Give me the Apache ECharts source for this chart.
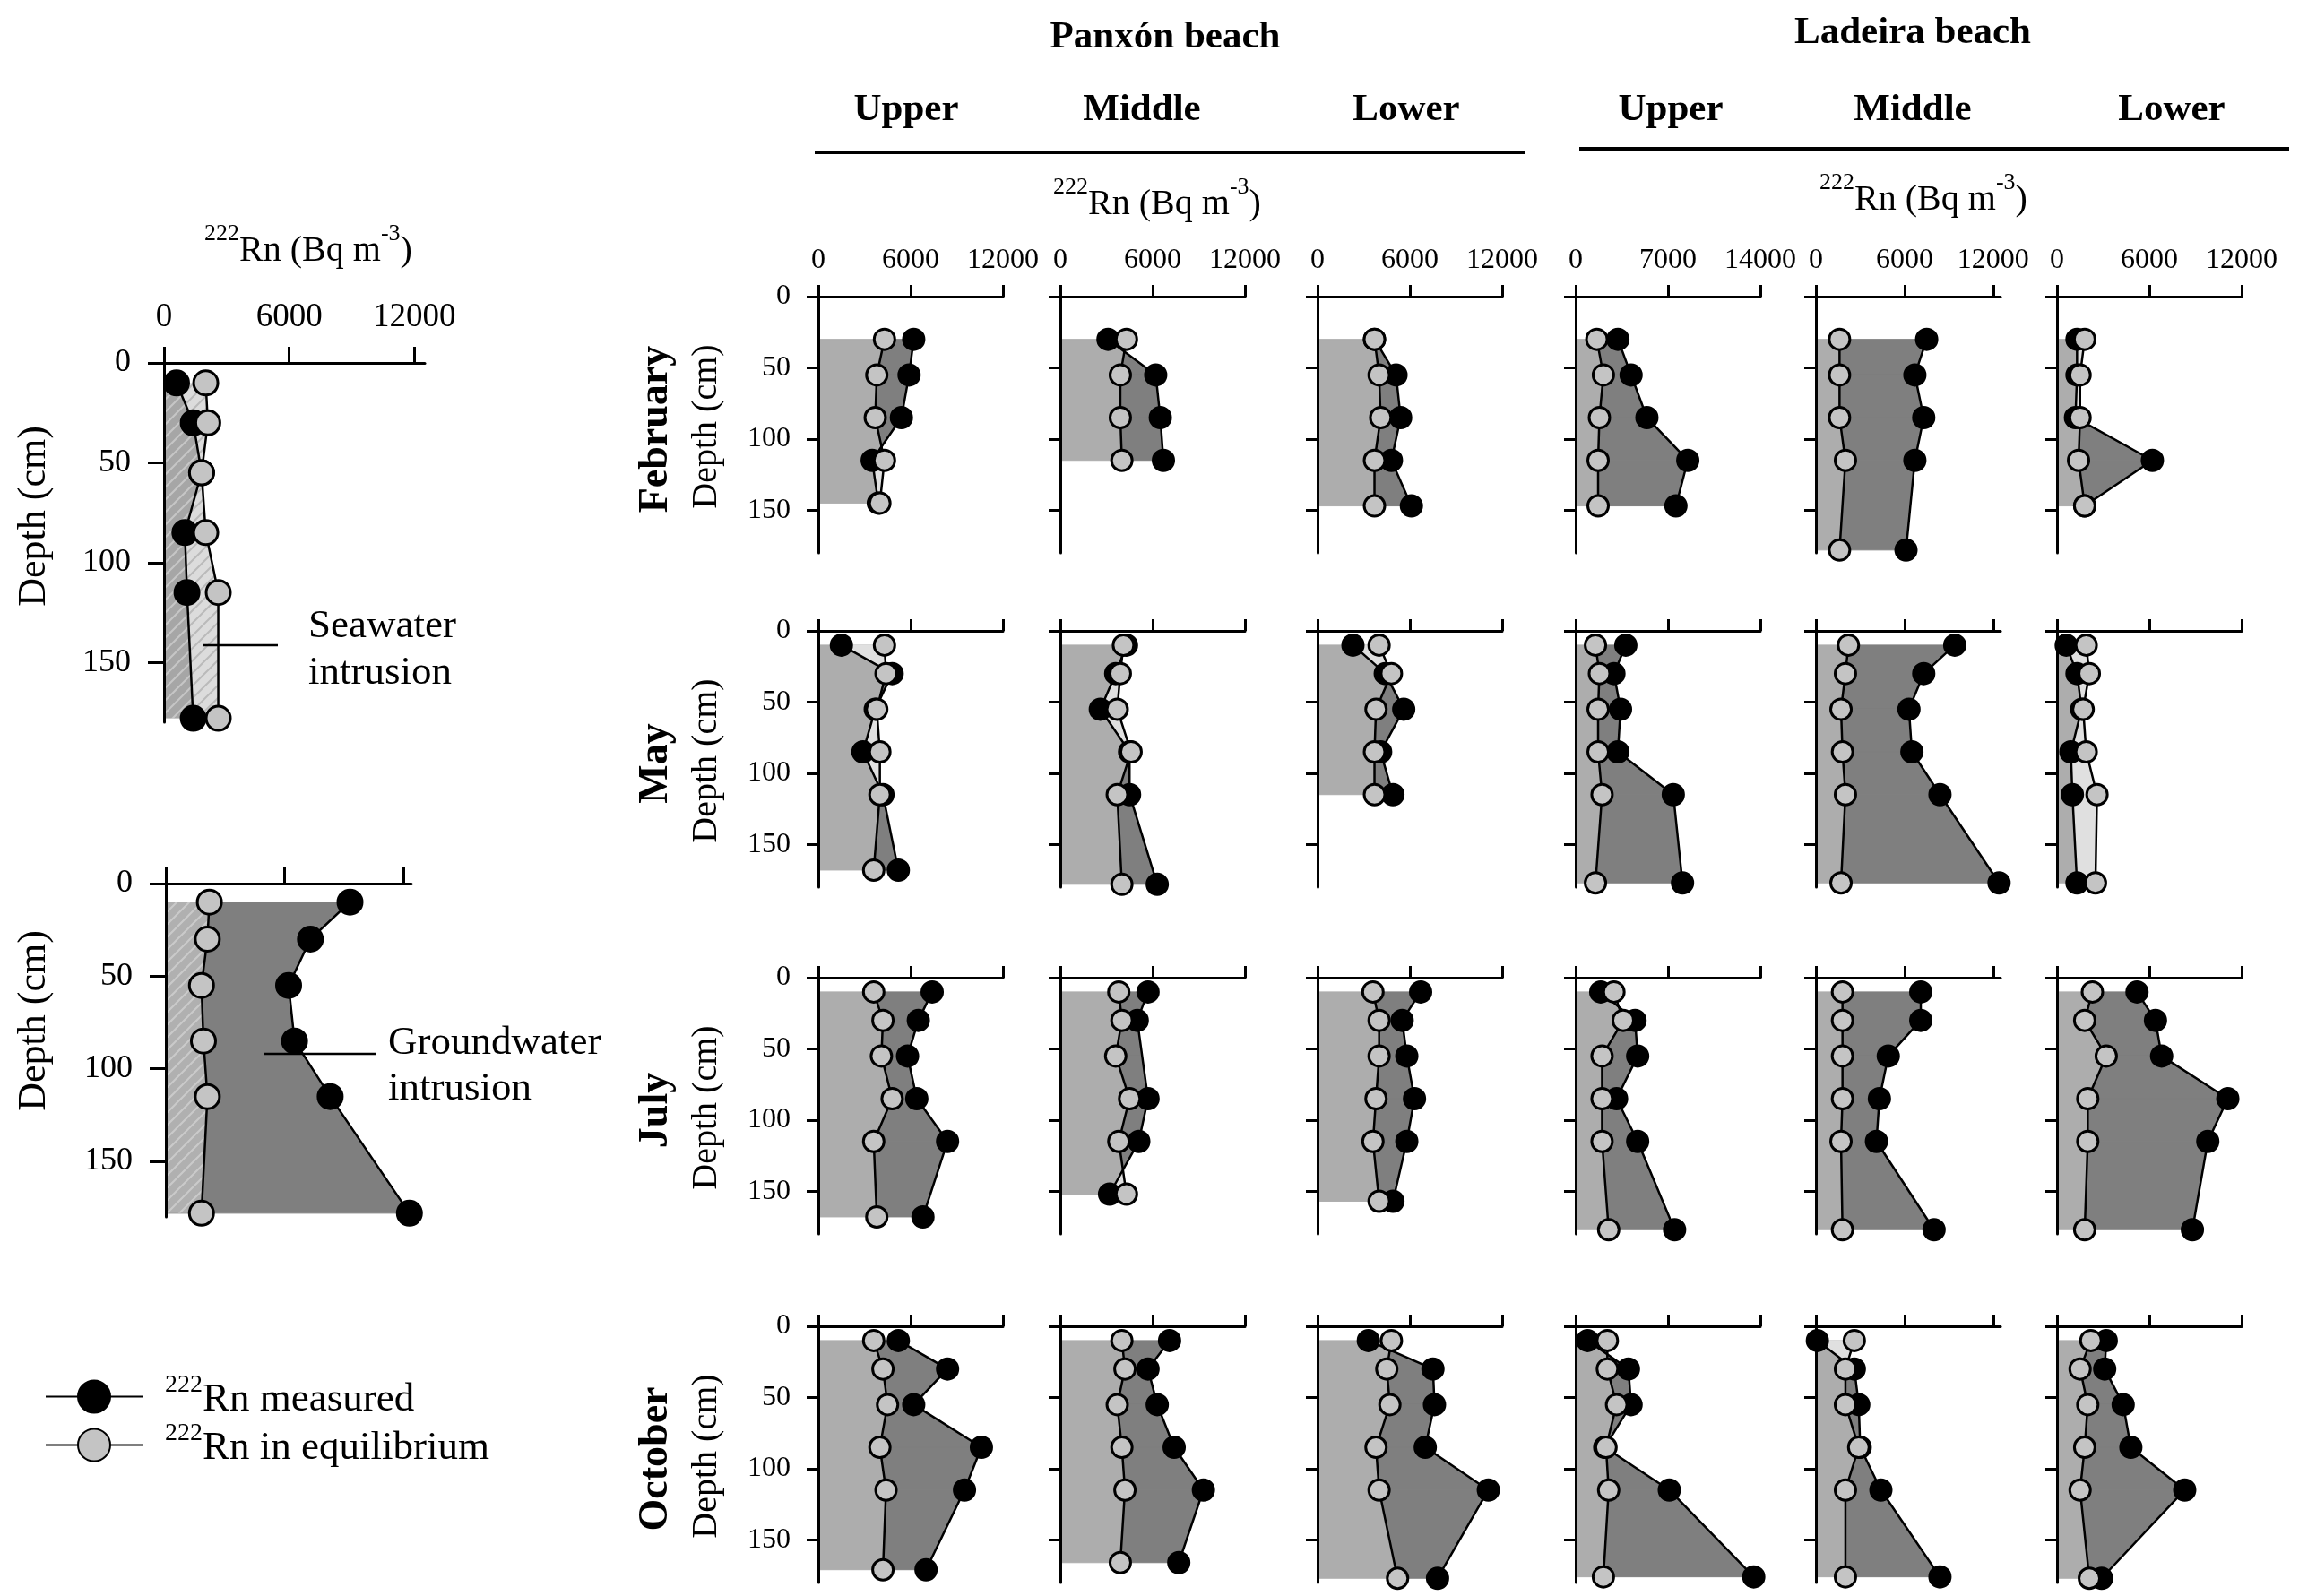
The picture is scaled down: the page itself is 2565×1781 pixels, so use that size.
<!DOCTYPE html>
<html lang="en">
<head>
<meta charset="UTF-8">
<title>222Rn profiles, Panxón and Ladeira beaches</title>
<script src="https://cdn.jsdelivr.net/npm/echarts@6/dist/echarts.min.js"></script>
<style>
    html, body { margin: 0; padding: 0; background: #fff; }
    #chart { width: 2565px; height: 1781px; }
</style>
</head>
<body>
<div id="chart"></div>
<script>
    const FONT = 'Liberation Serif';

    // ---- data (Bq m-3 against depth in cm) ----
    const beaches = ['Panxón beach', 'Ladeira beach'];
    const sites = ['Upper', 'Middle', 'Lower', 'Upper', 'Middle', 'Lower'];
    const months = ['February', 'May', 'July', 'October'];
    const rnTicks = [0, 6000, 12000];
    const rnTicksWide = [0, 7000, 14000];
    const depthTicks = [0, 50, 100, 150];
    const rnMax = [12000, 12000, 12000, 14000, 12500, 12000];

    // order of each list: Panxón upper, middle, lower, Ladeira upper, middle, lower
    const febDepth = [
        [30, 55, 85, 115, 145], [30, 55, 85, 115], [30, 55, 85, 115, 147],
        [30, 55, 85, 115, 147], [30, 55, 85, 115, 178], [30, 55, 85, 115, 147]
    ];
    const febMeasured = [
        [6200, 5900, 5400, 3500, 3900], [3100, 6200, 6500, 6700], [3700, 5100, 5400, 4800, 6100],
        [3200, 4200, 5400, 8500, 7600], [7500, 6700, 7300, 6700, 6100], [1300, 1300, 1200, 6200, 1800]
    ];
    const febEquilibrium = [
        [4300, 3800, 3700, 4300, 4000], [4300, 3900, 3900, 4000], [3700, 4000, 4100, 3700, 3700],
        [1600, 2100, 1800, 1700, 1700], [1600, 1600, 1600, 2000, 1600], [1800, 1500, 1500, 1400, 1800]
    ];

    const mayDepth = [
        [10, 30, 55, 85, 115, 168], [10, 30, 55, 85, 115, 178], [10, 30, 55, 85, 115],
        [10, 30, 55, 85, 115, 177], [10, 30, 55, 85, 115, 177], [10, 30, 55, 85, 115, 177]
    ];
    const mayMeasured = [
        [1500, 4800, 3700, 2900, 4200, 5200], [4300, 3600, 2600, 4500, 4500, 6300], [2300, 4400, 5600, 4100, 4900],
        [3800, 2900, 3400, 3200, 7400, 8100], [9400, 7300, 6300, 6500, 8400, 12400], [600, 1300, 1600, 900, 1000, 1300]
    ];
    const mayEquilibrium = [
        [4300, 4400, 3800, 4000, 4000, 3600], [4100, 3900, 3700, 4600, 3700, 4000], [4000, 4800, 3800, 3700, 3700],
        [1500, 1800, 1700, 1700, 2000, 1500], [2200, 2000, 1700, 1800, 2000, 1700], [1900, 2100, 1700, 1900, 2600, 2500]
    ];

    const julDepth = [
        [10, 30, 55, 85, 115, 168], [10, 30, 55, 85, 115, 152], [10, 30, 55, 85, 115, 157],
        [10, 30, 55, 85, 115, 177], [10, 30, 55, 85, 115, 177], [10, 30, 55, 85, 115, 177]
    ];
    const julMeasured = [
        [7400, 6500, 5800, 6400, 8400, 6800], [5700, 5000, null, 5700, 5100, 3200], [6700, 5500, 5800, 6300, 5800, 4900],
        [1900, 4500, 4700, 3100, 4700, 7500], [7100, 7100, 4900, 4300, 4100, 8000], [5200, 6400, 6800, 11100, 9800, 8800]
    ];
    const julEquilibrium = [
        [3600, 4200, 4100, 4800, 3600, 3800], [3800, 4000, 3600, 4500, 3800, 4300], [3600, 4000, 4000, 3800, 3600, 4000],
        [2900, 3600, 2000, 2000, 2000, 2500], [1800, 1800, 1800, 1800, 1700, 1800], [2300, 1800, 3200, 2000, 2000, 1800]
    ];

    const octDepth = [
        [10, 30, 55, 85, 115, 171], [10, 30, 55, 85, 115, 166], [10, 30, 55, 85, 115, 177],
        [10, 30, 55, 85, 115, 176], [10, 30, 55, 85, 115, 176], [10, 30, 55, 85, 115, 177]
    ];
    const octMeasured = [
        [5200, 8400, 6200, 10600, 9500, 7000], [7100, 5700, 6300, 7400, 9300, 7700], [3300, 7500, 7600, 7000, 11100, 7800],
        [900, 4000, 4200, 2200, 7100, 13500], [100, 2600, 2900, 3000, 4400, 8400], [3200, 3100, 4300, 4800, 8300, 2900]
    ];
    const octEquilibrium = [
        [3600, 4200, 4500, 4000, 4400, 4200], [4000, 4200, 3700, 4000, 4200, 3900], [4800, 4500, 4700, 3800, 4000, 5200],
        [2400, 2400, 3100, 2300, 2500, 2100], [2600, 2000, 2000, 2900, 2000, 2000], [2200, 1500, 2000, 1800, 1500, 2100]
    ];

    // the two explanatory profiles on the left
    const seaDepth = [10, 30, 55, 85, 115, 178];
    const seaMeasured = [600, 1400, 1800, 1000, 1100, 1400];
    const seaEquilibrium = [2000, 2100, 1800, 2000, 2600, 2600];
    const gwDepth = [10, 30, 55, 85, 115, 178];
    const gwMeasured = [9300, 7300, 6200, 6500, 8300, 12300];
    const gwEquilibrium = [2200, 2100, 1800, 1900, 2100, 1800];

    const monthData = [
        [febDepth, febMeasured, febEquilibrium],
        [mayDepth, mayMeasured, mayEquilibrium],
        [julDepth, julMeasured, julEquilibrium],
        [octDepth, octMeasured, octEquilibrium]
    ];

    // ---- layout ----
    const colLeft = [913, 1183, 1470, 1758, 2026, 2295];
    const rowTop = [331, 704, 1091, 1480];
    const panelW = 206, panelH = 286;

    const LIGHT = '#adadad', DARK = '#7f7f7f', PALE = '#e0e0e0';

    function hatch(bg, fg) {
        const s = 14;
        const c = document.createElement('canvas');
        c.width = s; c.height = s;
        const g = c.getContext('2d');
        g.fillStyle = bg;
        g.fillRect(0, 0, s, s);
        g.strokeStyle = fg;
        g.lineWidth = 2;
        g.beginPath();
        g.moveTo(0, s); g.lineTo(s, 0);
        g.moveTo(-s / 2, s / 2); g.lineTo(s / 2, -s / 2);
        g.moveTo(s / 2, s * 1.5); g.lineTo(s * 1.5, s / 2);
        g.stroke();
        return { type: 'pattern', image: c, repeat: 'repeat' };
    }

    function pairs(depth, vals) {
        const out = [];
        depth.forEach((d, i) => { if (vals[i] != null) out.push([vals[i], d]); });
        return out;
    }

    function valueAt(pts, d) {
        for (let i = 0; i < pts.length - 1; i++) {
            const a = pts[i], b = pts[i + 1];
            if (d >= a[1] && d <= b[1]) {
                const t = b[1] === a[1] ? 0 : (d - a[1]) / (b[1] - a[1]);
                return a[0] + t * (b[0] - a[0]);
            }
        }
        return d < pts[0][1] ? pts[0][0] : pts[pts.length - 1][0];
    }

    // strip between equilibrium and measured profiles, cut where they cross
    function strips(eq, ms) {
        const top = Math.max(eq[0][1], ms[0][1]);
        const bot = Math.min(eq[eq.length - 1][1], ms[ms.length - 1][1]);
        const ds = [...new Set(eq.concat(ms).map(p => p[1]))]
            .filter(d => d >= top && d <= bot).sort((a, b) => a - b);
        const out = [];
        for (let i = 0; i < ds.length - 1; i++) {
            const d0 = ds[i], d1 = ds[i + 1];
            const e0 = valueAt(eq, d0), e1 = valueAt(eq, d1);
            const m0 = valueAt(ms, d0), m1 = valueAt(ms, d1);
            const f0 = m0 - e0, f1 = m1 - e1;
            if (f0 * f1 < 0) {
                const t = f0 / (f0 - f1);
                const c = [e0 + t * (e1 - e0), d0 + t * (d1 - d0)];
                out.push({ up: f0 > 0, pts: [[e0, d0], [m0, d0], c] });
                out.push({ up: f1 > 0, pts: [c, [m1, d1], [e1, d1]] });
            } else {
                out.push({ up: f0 + f1 > 0, pts: [[e0, d0], [m0, d0], [m1, d1], [e1, d1]] });
            }
        }
        return out;
    }

    // closes a profile back onto the depth axis
    function toAxis(pts) {
        return [[0, pts[0][1]]].concat(pts, [[0, pts[pts.length - 1][1]]]);
    }

    const grids = [], xAxes = [], yAxes = [], series = [];

    function addPanel(c) {
        const gi = grids.length;
        grids.push({ left: c.left, top: c.top, width: c.width, height: c.height });
        const line = { onZero: false, lineStyle: { color: '#000', width: 3 } };
        const tick = { length: c.tick, lineStyle: { color: '#000', width: 3 } };
        xAxes.push({
            gridIndex: gi, type: 'value', position: 'top', min: 0, max: c.xMax, z: 3,
            axisLine: line,
            axisTick: Object.assign({ customValues: c.xTicks }, tick),
            axisLabel: {
                show: c.xLabels, customValues: c.xTicks, margin: c.xMargin,
                fontSize: c.xFont, fontFamily: FONT, color: '#000', formatter: v => String(v)
            },
            splitLine: { show: false }
        });
        yAxes.push({
            gridIndex: gi, type: 'value', inverse: true, min: 0, max: 180, z: 3,
            axisLine: line,
            axisTick: Object.assign({ customValues: depthTicks }, tick),
            axisLabel: {
                show: c.yLabels, customValues: depthTicks, margin: c.yMargin,
                fontSize: c.yFont, fontFamily: FONT, color: '#000', formatter: v => String(v)
            },
            splitLine: { show: false }
        });
        return gi;
    }

    function fillSeries(gi, layers) {
        series.push({
            type: 'custom', xAxisIndex: gi, yAxisIndex: gi, z: 1, silent: true, clip: false,
            data: [[0, 0]],
            renderItem: (params, api) => ({
                type: 'group',
                children: layers.map(l => ({
                    type: 'polygon',
                    shape: { points: l.pts.map(p => api.coord(p)) },
                    style: { fill: l.fill, stroke: l.edge || null, lineWidth: l.edge ? 1 : 0 }
                }))
            })
        });
    }

    function profileLines(gi, ms, eq, size) {
        const common = {
            type: 'line', xAxisIndex: gi, yAxisIndex: gi, symbol: 'circle', symbolSize: size,
            clip: false, silent: true, lineStyle: { color: '#000', width: 2.5 }
        };
        series.push(Object.assign({}, common, {
            name: 'meas', data: ms, z: 5,
            itemStyle: { color: '#000', borderColor: '#000', borderWidth: 3 }
        }));
        series.push(Object.assign({}, common, {
            name: 'eq', data: eq, z: 6,
            itemStyle: { color: '#c4c4c4', borderColor: '#000', borderWidth: 3 }
        }));
    }

    // ---- explanatory profiles ----
    const seaGi = addPanel({
        left: 183, top: 405, width: 291, height: 401, xMax: 12500, xTicks: rnTicks,
        xLabels: true, yLabels: true, tick: 18, xFont: 37, yFont: 36, xMargin: 32, yMargin: 37
    });
    const seaM = pairs(seaDepth, seaMeasured), seaE = pairs(seaDepth, seaEquilibrium);
    fillSeries(seaGi, [
        { pts: toAxis(seaE), fill: hatch('#dcdcdc', '#bababa') },
        { pts: toAxis(seaM), fill: hatch('#a6a6a6', '#c6c6c6') }
    ]);
    profileLines(seaGi, seaM, seaE, 27);

    const gwGi = addPanel({
        left: 185, top: 986, width: 274, height: 372, xMax: 12400, xTicks: rnTicks,
        xLabels: false, yLabels: true, tick: 18, xFont: 37, yFont: 36, xMargin: 32, yMargin: 37
    });
    const gwM = pairs(gwDepth, gwMeasured), gwE = pairs(gwDepth, gwEquilibrium);
    fillSeries(gwGi, [
        { pts: toAxis(gwM), fill: DARK, edge: DARK },
        { pts: toAxis(gwE), fill: hatch('#b0b0b0', '#cacaca') }
    ]);
    profileLines(gwGi, gwM, gwE, 27);

    // ---- 4 x 6 grid of profiles ----
    monthData.forEach(([depth, measured, equilibrium], r) => {
        sites.forEach((site, c) => {
            const gi = addPanel({
                left: colLeft[c], top: rowTop[r], width: panelW, height: panelH,
                xMax: rnMax[c], xTicks: c === 3 ? rnTicksWide : rnTicks,
                xLabels: r === 0, yLabels: c === 0, tick: 13,
                xFont: 32, yFont: 32, xMargin: 24, yMargin: 31
            });
            const ms = pairs(depth[c], measured[c]);
            const eq = pairs(depth[c], equilibrium[c]);
            const layers = [{ pts: toAxis(eq), fill: LIGHT, edge: LIGHT }];
            strips(eq, ms).forEach(s => {
                const col = s.up ? DARK : PALE;
                layers.push({ pts: s.pts, fill: col, edge: col });
            });
            fillSeries(gi, layers);
            profileLines(gi, ms, eq, 23);
        });
    });

    // ---- texts ----
    function text(str, x, y, size, bold, rot) {
        const st = {
            text: str, x: 0, y: 0, fill: '#000',
            font: (bold ? 'bold ' : '') + size + 'px "' + FONT + '"',
            align: 'center', verticalAlign: 'middle',
            textAlign: 'center', textVerticalAlign: 'middle'
        };
        return { type: 'text', x: x, y: y, z: 10, rotation: rot ? Math.PI / 2 : 0, silent: true, style: st };
    }
    function leftText(str, x, y, size) {
        const el = text(str, x, y, size, false, false);
        el.style.align = 'left';
        el.style.textAlign = 'left';
        return el;
    }
    function rnTitle(x, y, size) {
        return {
            type: 'text', x: x, y: y, z: 10, silent: true,
            style: {
                text: '{s|222}{t|Rn (Bq m}{s|-3}{t|)}', x: 0, y: 0,
                align: 'center', verticalAlign: 'middle', textAlign: 'center', textVerticalAlign: 'middle',
                rich: {
                    s: { fontSize: Math.round(size * 0.64), fontFamily: FONT, fill: '#000', verticalAlign: 'top' },
                    t: { fontSize: size, fontFamily: FONT, fill: '#000', padding: [12, 0, 0, 0] }
                }
            }
        };
    }
    function hline(x1, y1, x2, y2, w) {
        return { type: 'line', z: 10, silent: true, shape: { x1, y1, x2, y2 }, style: { stroke: '#000', lineWidth: w } };
    }

    const siteX = [1011, 1274, 1569, 1864, 2134, 2423];
    const graphics = [
        text(beaches[0], 1300, 42, 43, true),
        text(beaches[1], 2134, 37, 43, true),
        hline(909, 170, 1701, 170, 4),
        hline(1762, 166, 2554, 166, 4),
        rnTitle(1291, 222, 40),
        rnTitle(2146, 217, 40),
        rnTitle(344, 274, 40),
        text('Depth (cm)', 38, 576, 44, false, true),
        text('Depth (cm)', 38, 1139, 44, false, true),
        hline(227, 720, 310, 720, 2.5),
        leftText('Seawater', 344, 699, 45),
        leftText('intrusion', 344, 751, 45),
        hline(295, 1176, 419, 1176, 2.5),
        leftText('Groundwater', 433, 1164, 45),
        leftText('intrusion', 433, 1215, 45)
    ];
    sites.forEach((s, i) => graphics.push(text(s, siteX[i], 123, 43, true)));
    months.forEach((m, r) => {
        const mid = rowTop[r] + panelH / 2;
        graphics.push(text(m, 732, mid + 5, 46, true, true));
        graphics.push(text('Depth (cm)', 788, mid + 2, 40, false, true));
    });

    const chart = echarts.init(document.getElementById('chart'));
    chart.setOption({
        animation: false,
        backgroundColor: '#fff',
        textStyle: { fontFamily: FONT },
        legend: {
            left: 45, top: 1527, orient: 'vertical',
            itemWidth: 108, itemHeight: 45, itemGap: 1,
            selectedMode: false,
            data: ['meas', 'eq'],
            formatter: n => n === 'meas' ? '{s|222}{t|Rn measured}' : '{s|222}{t|Rn in equilibrium}',
            textStyle: {
                color: '#000',
                rich: {
                    s: { fontSize: 28, fontFamily: FONT, color: '#000', verticalAlign: 'top', padding: [0, 0, 0, 20] },
                    t: { fontSize: 45, fontFamily: FONT, color: '#000', padding: [8, 0, 0, 0] }
                }
            }
        },
        grid: grids,
        xAxis: xAxes,
        yAxis: yAxes,
        series: series,
        graphic: graphics
    });
</script>
</body>
</html>
